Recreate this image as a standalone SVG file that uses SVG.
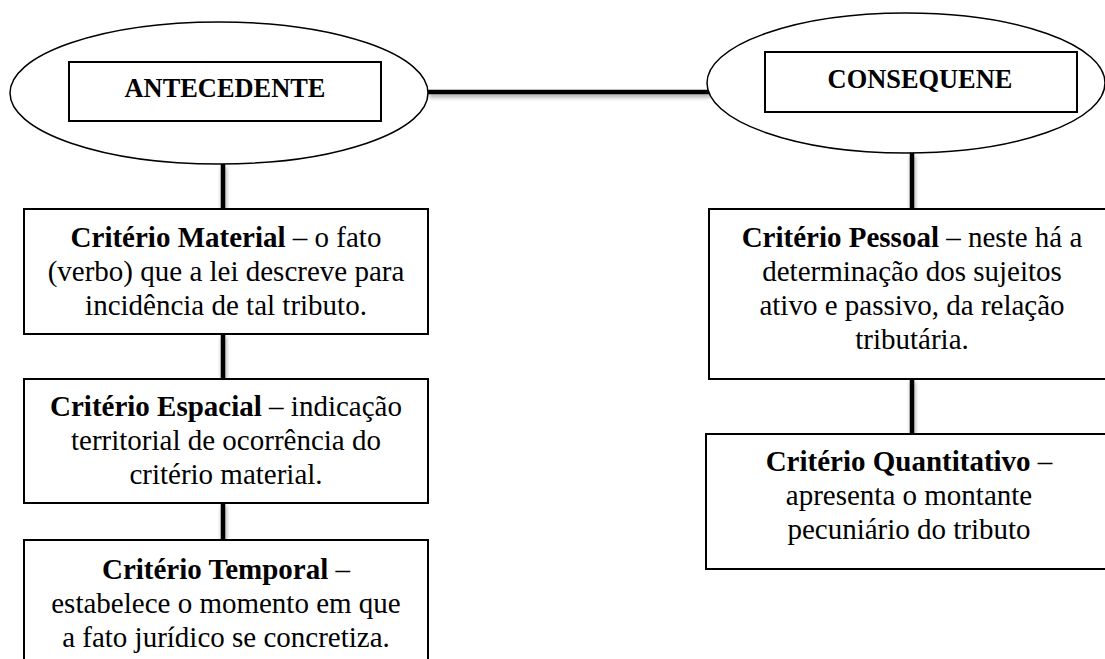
<svg xmlns="http://www.w3.org/2000/svg" width="1105" height="659" viewBox="0 0 1105 659">
<style>
.ell{fill:#fff;stroke:#000;stroke-width:1.5}
.box{fill:#fff;stroke:#000;stroke-width:2}
.hd{font-family:"Liberation Serif","Times New Roman",serif;font-size:26.4px;font-weight:bold;text-anchor:middle;fill:#000}
.tx{font-family:"Liberation Serif","Times New Roman",serif;font-size:29px;text-anchor:middle;fill:#000}
.b{font-weight:bold}
.con{stroke:#000;stroke-width:4.5;fill:none}
</style>
<defs>
<filter id="sh" filterUnits="userSpaceOnUse" x="0" y="0" width="1105" height="659">
<feDropShadow dx="1" dy="3" stdDeviation="2" flood-color="#000" flood-opacity="0.35"/>
</filter>
</defs>
<rect width="1105" height="659" fill="#fff"/>
<g id="connectors" filter="url(#sh)">
<line class="con" x1="428" y1="92" x2="710" y2="92"/>
<line class="con" x1="223" y1="164" x2="223" y2="209"/>
<line class="con" x1="223" y1="334" x2="223" y2="379"/>
<line class="con" x1="223" y1="503" x2="223" y2="540"/>
<line class="con" x1="912" y1="153" x2="912" y2="209"/>
<line class="con" x1="912" y1="379" x2="912" y2="434"/>
</g>
<g id="antecedente">
<ellipse class="ell" cx="219" cy="93" rx="209" ry="71"/>
<rect class="box" x="69" y="62" width="312" height="59"/>
<text class="hd" x="225" y="97">ANTECEDENTE</text>
</g>
<g id="consequene">
<ellipse class="ell" cx="906" cy="83" rx="199" ry="70"/>
<rect class="box" x="765" y="52" width="312" height="60"/>
<text class="hd" x="920" y="88">CONSEQUENE</text>
</g>
<g id="material">
<rect class="box" x="24" y="209" width="404" height="125"/>
<text class="tx" x="226" y="247"><tspan class="b">Critério Material</tspan> – o fato</text>
<text class="tx" x="226" y="281">(verbo) que a lei descreve para</text>
<text class="tx" x="226" y="315">incidência de tal tributo.</text>
</g>
<g id="espacial">
<rect class="box" x="24" y="379" width="404" height="124"/>
<text class="tx" x="226" y="416"><tspan class="b">Critério Espacial</tspan> – indicação</text>
<text class="tx" x="226" y="450">territorial de ocorrência do</text>
<text class="tx" x="226" y="484">critério material.</text>
</g>
<g id="temporal">
<rect class="box" x="24" y="540" width="404" height="140"/>
<text class="tx" x="226" y="579"><tspan class="b">Critério Temporal</tspan> –</text>
<text class="tx" x="226" y="613">estabelece o momento em que</text>
<text class="tx" x="226" y="647">a fato jurídico se concretiza.</text>
</g>
<g id="pessoal">
<rect class="box" x="709" y="209" width="420" height="170"/>
<text class="tx" x="912" y="247"><tspan class="b">Critério Pessoal</tspan> – neste há a</text>
<text class="tx" x="912" y="281">determinação dos sujeitos</text>
<text class="tx" x="912" y="315">ativo e passivo, da relação</text>
<text class="tx" x="912" y="349">tributária.</text>
</g>
<g id="quantitativo">
<rect class="box" x="706" y="434" width="420" height="135"/>
<text class="tx" x="909" y="471"><tspan class="b">Critério Quantitativo</tspan> –</text>
<text class="tx" x="909" y="505">apresenta o montante</text>
<text class="tx" x="909" y="539">pecuniário do tributo</text>
</g>
</svg>
